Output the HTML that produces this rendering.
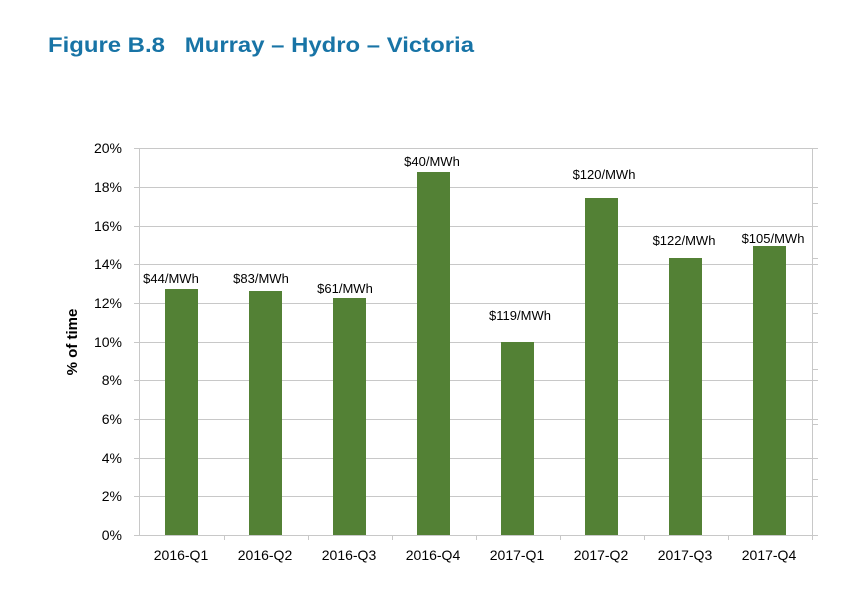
<!DOCTYPE html>
<html><head><meta charset="utf-8"><style>
body{margin:0;background:#fff;width:854px;height:587px;overflow:hidden}
</style></head><body>
<svg width="854" height="587" xmlns="http://www.w3.org/2000/svg" font-family="'Liberation Sans',sans-serif">
<text x="48" y="52" font-size="21" font-weight="bold" fill="#1874a6" textLength="426" lengthAdjust="spacingAndGlyphs">Figure B.8&#160;&#160;&#160;Murray – Hydro – Victoria</text>
<g stroke="#c8c8c8" stroke-width="1">
<line x1="134" y1="148.5" x2="818" y2="148.5"/>
<line x1="134" y1="187.5" x2="818" y2="187.5"/>
<line x1="134" y1="226.5" x2="818" y2="226.5"/>
<line x1="134" y1="264.5" x2="818" y2="264.5"/>
<line x1="134" y1="303.5" x2="818" y2="303.5"/>
<line x1="134" y1="342.5" x2="818" y2="342.5"/>
<line x1="134" y1="380.5" x2="818" y2="380.5"/>
<line x1="134" y1="419.5" x2="818" y2="419.5"/>
<line x1="134" y1="458.5" x2="818" y2="458.5"/>
<line x1="134" y1="496.5" x2="818" y2="496.5"/>
<line x1="134" y1="535.5" x2="818" y2="535.5"/>
<line x1="139.5" y1="148" x2="139.5" y2="535"/>
<line x1="812.5" y1="148" x2="812.5" y2="540"/>
<line x1="812" y1="203.5" x2="818" y2="203.5"/>
<line x1="812" y1="258.5" x2="818" y2="258.5"/>
<line x1="812" y1="313.5" x2="818" y2="313.5"/>
<line x1="812" y1="369.5" x2="818" y2="369.5"/>
<line x1="812" y1="424.5" x2="818" y2="424.5"/>
<line x1="812" y1="479.5" x2="818" y2="479.5"/>
<line x1="224.5" y1="535" x2="224.5" y2="540"/>
<line x1="308.5" y1="535" x2="308.5" y2="540"/>
<line x1="392.5" y1="535" x2="392.5" y2="540"/>
<line x1="476.5" y1="535" x2="476.5" y2="540"/>
<line x1="560.5" y1="535" x2="560.5" y2="540"/>
<line x1="644.5" y1="535" x2="644.5" y2="540"/>
<line x1="728.5" y1="535" x2="728.5" y2="540"/>
</g>
<g fill="#538135">
<rect x="165" y="289" width="33" height="246"/>
<rect x="249" y="291" width="33" height="244"/>
<rect x="333" y="298" width="33" height="237"/>
<rect x="417" y="172" width="33" height="363"/>
<rect x="501" y="342" width="33" height="193"/>
<rect x="585" y="198" width="33" height="337"/>
<rect x="669" y="258" width="33" height="277"/>
<rect x="753" y="246" width="33" height="289"/>
</g>
<g font-size="14" fill="#000" text-anchor="end">
<text x="122" y="153">20%</text><text x="122" y="192">18%</text><text x="122" y="231">16%</text>
<text x="122" y="269">14%</text><text x="122" y="308">12%</text><text x="122" y="347">10%</text>
<text x="122" y="385">8%</text><text x="122" y="424">6%</text><text x="122" y="463">4%</text>
<text x="122" y="501">2%</text><text x="122" y="540">0%</text>
</g>
<text transform="translate(77,342) rotate(-90)" font-size="15" font-weight="bold" text-anchor="middle">% of time</text>
<g font-size="14" text-anchor="middle">
<text x="181" y="560">2016-Q1</text><text x="265" y="560">2016-Q2</text><text x="349" y="560">2016-Q3</text><text x="433" y="560">2016-Q4</text>
<text x="517" y="560">2017-Q1</text><text x="601" y="560">2017-Q2</text><text x="685" y="560">2017-Q3</text><text x="769" y="560">2017-Q4</text>
</g>
<g font-size="13" text-anchor="middle">
<text x="171" y="283">$44/MWh</text><text x="261" y="283">$83/MWh</text><text x="345" y="293">$61/MWh</text>
<text x="432" y="166">$40/MWh</text><text x="520" y="320">$119/MWh</text><text x="604" y="179">$120/MWh</text>
<text x="684" y="245">$122/MWh</text><text x="773" y="243">$105/MWh</text>
</g>
</svg>
</body></html>
